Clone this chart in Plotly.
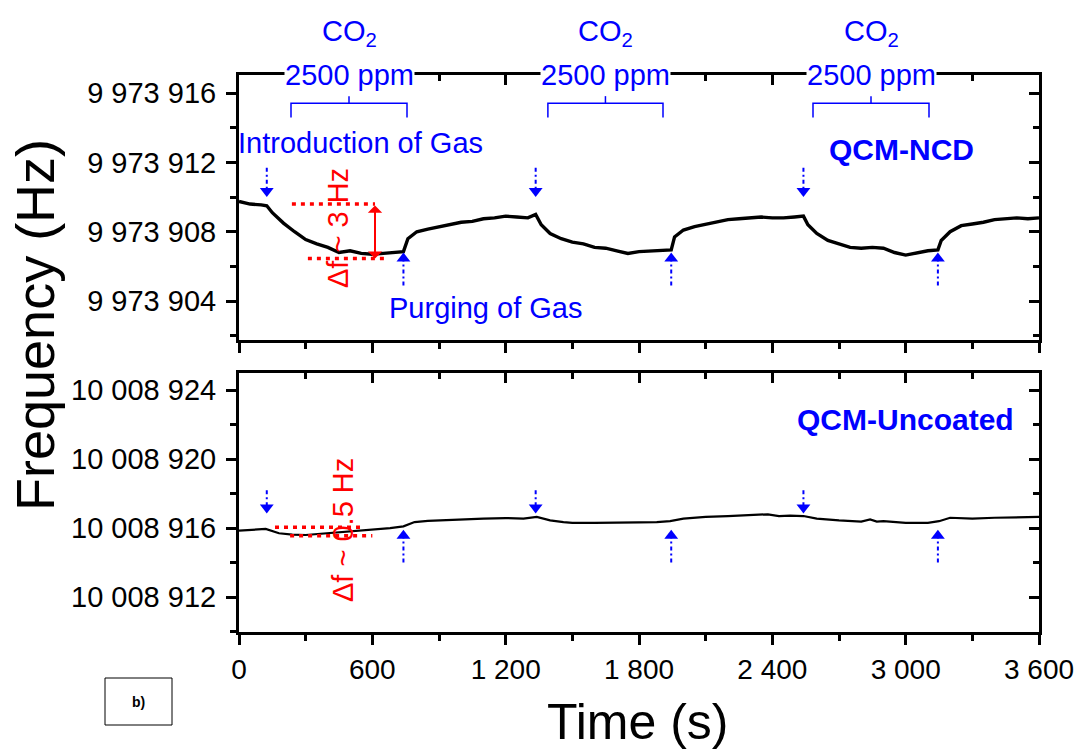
import plotly.graph_objects as go

# ---------------- data ----------------
# QCM-NCD resonance frequency (Hz) vs time (s)
ncd_time = [0, 50, 100, 125, 150, 200, 250, 300, 350, 400, 450, 500, 550, 600, 650, 700, 740,
            760, 800, 850, 900, 950, 1000, 1050, 1100, 1150, 1200, 1250, 1300, 1335,
            1360, 1400, 1450, 1500, 1550, 1600, 1650, 1700, 1750, 1800, 1850, 1900, 1945,
            1960, 2000, 2050, 2100, 2150, 2200, 2250, 2300, 2350, 2400, 2450, 2500, 2540,
            2560, 2600, 2650, 2700, 2750, 2800, 2850, 2900, 2950, 3000, 3050, 3100, 3145,
            3160, 3200, 3250, 3300, 3350, 3400, 3450, 3500, 3550, 3600]
ncd_freq = [9973909.75, 9973909.6, 9973909.55, 9973909.5, 9973909.1, 9973908.5, 9973908.0,
            9973907.55, 9973907.3, 9973907.1, 9973906.8, 9973906.9, 9973906.75, 9973906.7,
            9973906.75, 9973906.8, 9973906.85,
            9973907.6, 9973908.0, 9973908.15, 9973908.3, 9973908.45, 9973908.55, 9973908.6,
            9973908.75, 9973908.8, 9973908.9, 9973908.85, 9973908.8, 9973909.0,
            9973908.4, 9973907.9, 9973907.6, 9973907.4, 9973907.3, 9973907.1, 9973907.05,
            9973906.9, 9973906.75, 9973906.85, 9973906.9, 9973906.95, 9973906.95,
            9973907.7, 9973908.1, 9973908.3, 9973908.45, 9973908.55, 9973908.7, 9973908.75,
            9973908.8, 9973908.85, 9973908.8, 9973908.8, 9973908.85, 9973908.9,
            9973908.4, 9973907.9, 9973907.5, 9973907.3, 9973907.1, 9973907.05, 9973907.1,
            9973907.05, 9973906.8, 9973906.65, 9973906.8, 9973906.9, 9973906.95,
            9973907.5, 9973908.0, 9973908.35, 9973908.45, 9973908.55, 9973908.7, 9973908.75,
            9973908.8, 9973908.75, 9973908.8]

# Uncoated QCM resonance frequency (Hz) vs time (s)
unc_time = [0, 60, 120, 180, 240, 300, 380, 450, 520, 600, 680, 740, 790, 850, 900, 1000,
            1100, 1200, 1280, 1340, 1400, 1460, 1500, 1600, 1700, 1800, 1880, 1940, 2000,
            2100, 2200, 2300, 2380, 2430, 2480, 2540, 2600, 2700, 2800, 2840, 2870, 2900,
            3000, 3100, 3150, 3200, 3300, 3400, 3500, 3600]
unc_freq = [10008915.85, 10008915.9, 10008915.95, 10008915.7, 10008915.62, 10008915.6,
            10008915.68, 10008915.75, 10008915.82, 10008915.92, 10008916.0, 10008916.1,
            10008916.35, 10008916.42, 10008916.45, 10008916.5, 10008916.55, 10008916.58,
            10008916.55, 10008916.65, 10008916.45, 10008916.35, 10008916.3, 10008916.3,
            10008916.3, 10008916.33, 10008916.35, 10008916.4, 10008916.55, 10008916.65,
            10008916.7, 10008916.75, 10008916.8, 10008916.7, 10008916.72, 10008916.7,
            10008916.55, 10008916.45, 10008916.38, 10008916.5, 10008916.38, 10008916.4,
            10008916.3, 10008916.3, 10008916.4, 10008916.6, 10008916.55, 10008916.6,
            10008916.62, 10008916.65]

# gas switching events (s)
intro_times = [125, 1335, 2540]
purge_times = [740, 1945, 3145]
# CO2 exposure brackets (start, end) in s
exposure_windows = [(234, 756), (1390, 1908), (2583, 3105)]

# axis ranges
x_range = [0, 3600]
ncd_range = [9973901.75, 9973917.05]
unc_range = [10008909.97, 10008925.0]

W, H = 1079, 749
BLUE = "#0000FF"
RED = "#FF0000"
FONT = "Liberation Sans, Arial, sans-serif"


def px(x):
    return x / W


def py(y):
    return 1 - y / H


X_DOM = [px(239), px(1039)]
TOP_DOM = [py(340), py(75)]
BOT_DOM = [py(632), py(373)]

fig = go.Figure()

fig.add_trace(go.Scatter(x=ncd_time, y=ncd_freq, mode="lines",
                         line=dict(color="black", width=3.4), xaxis="x", yaxis="y",
                         showlegend=False, hoverinfo="skip"))
fig.add_trace(go.Scatter(x=unc_time, y=unc_freq, mode="lines",
                         line=dict(color="black", width=2.2), xaxis="x2", yaxis="y2",
                         showlegend=False, hoverinfo="skip"))

# placeholder traces so the mirrored (inside-tick) axes are drawn
for xa, ya in [("x3", "y"), ("x", "y3"), ("x4", "y2"), ("x2", "y4")]:
    fig.add_trace(go.Scatter(x=[None], y=[None], xaxis=xa, yaxis=ya,
                             showlegend=False, hoverinfo="skip"))


# event arrows: dotted shaft with a solid triangular head
def add_arrows(times, tail, tip, down, xa, ya):
    off = 0.35 if down else -0.35
    xs, ys = [], []
    for t in times:
        xs += [t, t, None]
        ys += [tail, tip + off, None]
    fig.add_trace(go.Scatter(x=xs, y=ys, mode="lines", xaxis=xa, yaxis=ya,
                             line=dict(color=BLUE, width=2, dash="4px,3px,2px,3px"),
                             showlegend=False, hoverinfo="skip"))
    fig.add_trace(go.Scatter(x=times, y=[tip + off] * len(times), mode="markers",
                             xaxis=xa, yaxis=ya,
                             marker=dict(symbol="triangle-down" if down else "triangle-up",
                                         size=12, color=BLUE, line=dict(width=0)),
                             showlegend=False, hoverinfo="skip"))


add_arrows(intro_times, 9973911.7, 9973910.0, True, "x", "y")
add_arrows(purge_times, 9973904.9, 9973906.8, False, "x", "y")
add_arrows(intro_times, 10008918.2, 10008916.85, True, "x2", "y2")
add_arrows(purge_times, 10008914.0, 10008915.9, False, "x2", "y2")

tickfont = dict(family=FONT, size=29, color="black")


def xaxis_cfg(anchor, labels, side="bottom", inside=False, overlay=None):
    cfg = dict(domain=X_DOM, anchor=anchor, range=x_range, dtick=600, tick0=0,
               ticks="inside" if inside else "outside", ticklen=10, tickwidth=3,
               tickcolor="black", showline=True, linewidth=3, linecolor="black",
               showgrid=False, zeroline=False, side=side, showticklabels=labels,
               automargin=False, tickformat=",d",
               tickfont=dict(family=FONT, size=28, color="black"),
               minor=dict(dtick=300, ticks="inside" if inside else "outside",
                          ticklen=6, tickwidth=3, tickcolor="black", showgrid=False))
    if overlay:
        cfg["overlaying"] = overlay
    return cfg


def yaxis_cfg(dom, anchor, rng, labels, side="left", inside=False, overlay=None):
    cfg = dict(domain=dom, anchor=anchor, range=rng, dtick=4,
               ticks="inside" if inside else "outside", ticklen=10, tickwidth=3,
               tickcolor="black", showline=True, linewidth=3, linecolor="black",
               showgrid=False, zeroline=False, side=side, showticklabels=labels,
               automargin=False, tickformat=",d", tickfont=tickfont, ticklabelstandoff=4,
               minor=dict(dtick=2, ticks="inside" if inside else "outside",
                          ticklen=6, tickwidth=3, tickcolor="black", showgrid=False))
    if overlay:
        cfg["overlaying"] = overlay
    return cfg


fig.update_layout(
    width=W, height=H, margin=dict(l=0, r=0, t=0, b=0, autoexpand=False),
    paper_bgcolor="white", plot_bgcolor="white", separators=". ",
    font=dict(family=FONT, color="black"),
    xaxis=xaxis_cfg("y", False),
    xaxis2=xaxis_cfg("y2", True),
    xaxis3=xaxis_cfg("y", False, side="top", inside=True, overlay="x"),
    xaxis4=xaxis_cfg("y2", False, side="top", inside=True, overlay="x2"),
    yaxis=yaxis_cfg(TOP_DOM, "x", ncd_range, True),
    yaxis2=yaxis_cfg(BOT_DOM, "x2", unc_range, True),
    yaxis3=yaxis_cfg(TOP_DOM, "x", ncd_range, False, side="right", inside=True, overlay="y"),
    yaxis4=yaxis_cfg(BOT_DOM, "x2", unc_range, False, side="right", inside=True, overlay="y2"),
)

shapes = []
annotations = []

# CO2 exposure labels and brackets
for (t0, t1) in exposure_windows:
    tc = (t0 + t1) / 2
    shapes.append(dict(type="path", xref="x", yref="y",
                       path=f"M {t0},9973914.6 L {t0},9973915.42 L {t1},9973915.42 L {t1},9973914.6",
                       line=dict(color=BLUE, width=1.5)))
    shapes.append(dict(type="line", xref="x", yref="y", x0=tc, x1=tc,
                       y0=9973915.42, y1=9973915.83, line=dict(color=BLUE, width=1.5)))
    annotations.append(dict(x=tc, xref="x", y=py(33), yref="paper", text="CO<sub>2</sub>",
                            showarrow=False, font=dict(size=29, color=BLUE, family=FONT),
                            xanchor="center", yanchor="middle"))
    annotations.append(dict(x=tc, xref="x", y=py(75), yref="paper", text="2500 ppm",
                            showarrow=False, font=dict(size=29, color=BLUE, family=FONT),
                            bgcolor="white", borderpad=0, xanchor="center", yanchor="middle"))


def label(x, y, text, size, color, angle=0, xanchor="center", weight_bold=False):
    return dict(x=px(x), y=py(y), xref="paper", yref="paper",
                text=f"<b>{text}</b>" if weight_bold else text, textangle=angle,
                showarrow=False, xanchor=xanchor, yanchor="middle",
                font=dict(size=size, color=color, family=FONT))


annotations += [
    label(236, 143, "Introduction of Gas", 29, BLUE, xanchor="left"),
    label(387, 308, "Purging of Gas", 29, BLUE, xanchor="left"),
    label(976, 150, "QCM-NCD", 30, BLUE, xanchor="right", weight_bold=True),
    label(1016, 420, "QCM-Uncoated", 30, BLUE, xanchor="right", weight_bold=True),
    # frequency shift labels
    label(338, 228, "Δf ~ 3 Hz", 29, RED, angle=-90),
    label(343, 530, "Δf ~ 0.5 Hz", 29, RED, angle=-90),
    # axis titles
    label(35, 325, "Frequency (Hz)", 54, "black", angle=-90),
    label(637, 722, "Time (s)", 50, "black"),
    label(138.5, 701.5, "b)", 14, "black", weight_bold=True),
    # Δf arrow for QCM-NCD
    dict(x=612, y=9973906.45, xref="x", yref="y", ax=612, ay=9973909.6,
         axref="x", ayref="y", text="", showarrow=True, arrowhead=1, startarrowhead=1,
         arrowside="end+start", arrowsize=1.2, startarrowsize=1.2, arrowwidth=2,
         arrowcolor=RED),
]

# dotted reference levels for the frequency shifts
red_dots = dict(color=RED, width=3.5, dash="4px,5px")
shapes += [
    dict(type="line", xref="x", yref="y", x0=238, x1=612, y0=9973909.6, y1=9973909.6, line=red_dots),
    dict(type="line", xref="x", yref="y", x0=310, x1=670, y0=9973906.45, y1=9973906.45, line=red_dots),
    dict(type="line", xref="x2", yref="y2", x0=162, x1=545, y0=10008916.05, y1=10008916.05, line=red_dots),
    dict(type="line", xref="x2", yref="y2", x0=230, x1=600, y0=10008915.55, y1=10008915.55, line=red_dots),
    dict(type="rect", xref="paper", yref="paper", x0=px(105), x1=px(172), y0=py(725), y1=py(678),
         line=dict(color="black", width=1)),
]

fig.update_layout(shapes=shapes, annotations=annotations)
fig.write_html("out.html")
